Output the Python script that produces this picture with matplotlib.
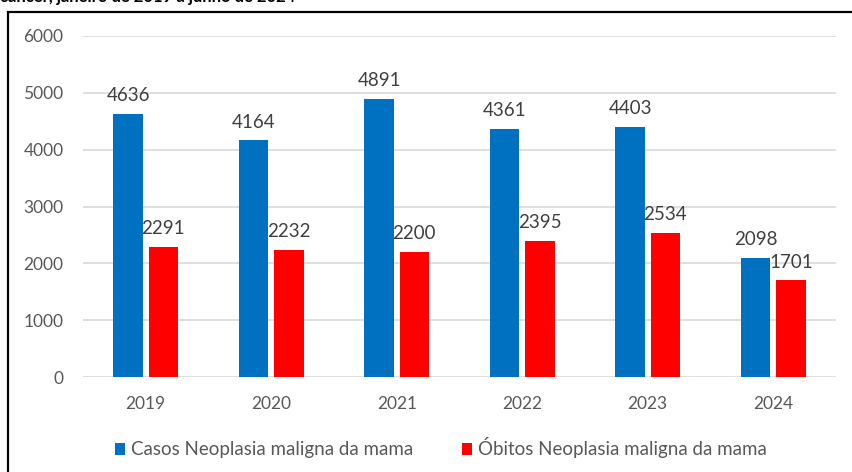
import matplotlib
matplotlib.use("Agg")
import matplotlib.pyplot as plt
import numpy as np
from matplotlib.patches import Rectangle

years = ["2019", "2020", "2021", "2022", "2023", "2024"]
casos = [4636, 4164, 4891, 4361, 4403, 2098]
obitos = [2291, 2232, 2200, 2395, 2534, 1701]
series_names = ["Casos Neoplasia maligna da mama", "Óbitos Neoplasia maligna da mama"]
yticks = [0, 1000, 2000, 3000, 4000, 5000, 6000]
title_text = "câncer, janeiro de 2019 a junho de 2024"

plt.rcParams['font.family'] = ['Lato', 'DejaVu Sans']
W, H = 852, 472
fig = plt.figure(figsize=(W/100, H/100), dpi=100)
ax = fig.add_axes([83/W, 1-377/H, (836-83)/W, (377-36)/H])

gray = "#595959"
x = np.arange(len(years))
w = 0.235
off = 0.14
b1 = ax.bar(x - off, casos, w, color="#0070C0", label=series_names[0], zorder=3)
b2 = ax.bar(x + off, obitos, w, color="#FF0000", label=series_names[1], zorder=3)

for bars in (b1, b2):
    for r in bars:
        ax.annotate(f"{int(r.get_height())}", (r.get_x()+r.get_width()/2, r.get_height()),
                    xytext=(0, 7), textcoords="offset points", ha="center", va="bottom",
                    fontsize=13.5, color="#404040")

ax.set_xlim(-0.5, len(years)-0.5)
ax.set_ylim(0, 6000)
ax.set_yticks(yticks)
ax.set_xticks(x)
ax.set_xticklabels(years)
ax.tick_params(axis="both", length=0, labelsize=12.5, labelcolor=gray)
ax.tick_params(axis="x", pad=14)
ax.tick_params(axis="y", pad=14)
ax.grid(axis="y", color="#d9d9d9", lw=1.2, zorder=0)
for s in ax.spines.values():
    s.set_visible(False)

leg = fig.legend(handles=[b1, b2], loc="center", bbox_to_anchor=(441/W, 1-448/H), ncol=2,
                 frameon=False, fontsize=13.5, handlelength=0.55, handleheight=0.55,
                 handletextpad=0.3, columnspacing=2.6)
for t in leg.get_texts():
    t.set_color(gray)

# outer frame
fig.patches.append(Rectangle((8/W, -0.1), 1.2, 1-12/H+0.1, transform=fig.transFigure,
                             fill=False, edgecolor="black", lw=1.6))
# clipped header text (cut off at the top edge, as in the reference)
fig.text(0/W, 1-2/H, title_text, fontsize=12, fontweight="bold", color="black",
         ha="left", va="baseline")

fig.savefig("out.png", dpi=100)
